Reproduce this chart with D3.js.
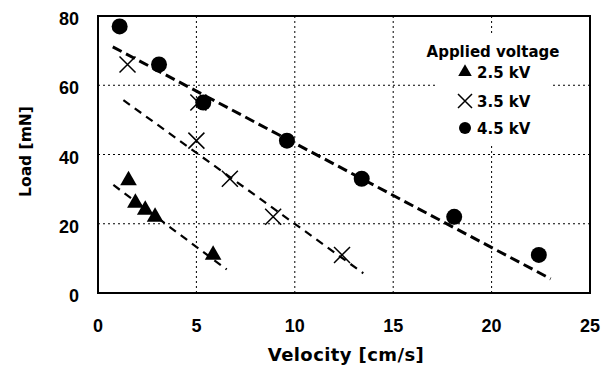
<!DOCTYPE html>
<html>
<head>
<meta charset="utf-8">
<script src="https://cdn.jsdelivr.net/npm/d3@7"></script>
<style>
  body { margin: 0; background: #fff; }
  text { font-family: "DejaVu Sans", sans-serif; font-weight: bold; fill: #000; }
  text.tick { font-family: "Liberation Sans", Arial, sans-serif; }
</style>
</head>
<body>
<script>
const v25 = [1.55, 1.9, 2.4, 2.9, 5.85];
const load25 = [32.5, 26, 24, 22, 11];
const v35 = [1.5, 5.1, 5.0, 6.7, 8.9, 12.4];
const load35 = [66, 55, 44, 33, 22, 11];
const v45 = [1.1, 3.1, 5.35, 9.6, 13.4, 18.1, 22.4];
const load45 = [77, 66, 55, 44, 33, 22, 11];

// dashed trend lines, start and end points
const fit25 = [[0.78, 31.2], [6.54, 6.8]];
const fit35 = [[1.29, 55.7], [13.48, 5.7]];
const fit45 = [[0.75, 71.1], [23.0, 4.1]];

const xTicks = [0, 5, 10, 15, 20, 25];
const yTicks = [0, 20, 40, 60, 80];
const legendLabels = ["2.5 kV", "3.5 kV", "4.5 kV"];

const width = 603, height = 365;
const margin = { top: 16, right: 13, bottom: 72, left: 98 };

const svg = d3.select("body").append("svg")
    .attr("width", width)
    .attr("height", height);

const x = d3.scaleLinear().domain([0, 25]).range([margin.left, width - margin.right]);
const y = d3.scaleLinear().domain([0, 80]).range([height - margin.bottom, margin.top]);

// dotted grid
svg.append("g").selectAll("line")
    .data(xTicks.slice(1, -1))
    .join("line")
    .attr("x1", d => x(d)).attr("x2", d => x(d))
    .attr("y1", y(0)).attr("y2", y(80))
    .attr("stroke", "#000").attr("stroke-width", 1)
    .attr("stroke-dasharray", "2,3");

svg.append("g").selectAll("line")
    .data(yTicks.slice(1, -1))
    .join("line")
    .attr("x1", x(0)).attr("x2", x(25))
    .attr("y1", d => y(d)).attr("y2", d => y(d))
    .attr("stroke", "#000").attr("stroke-width", 1)
    .attr("stroke-dasharray", "2,3");

// legend background hides the grid behind it
svg.append("rect")
    .attr("x", 437).attr("y", 34)
    .attr("width", 115).attr("height", 109)
    .attr("fill", "#fff");

// frame
svg.append("rect")
    .attr("x", x(0)).attr("y", y(80))
    .attr("width", x(25) - x(0)).attr("height", y(0) - y(80))
    .attr("fill", "none").attr("stroke", "#000").attr("stroke-width", 2);

// tick labels
svg.append("g").selectAll("text")
    .data(xTicks)
    .join("text")
    .attr("class", "tick")
    .attr("x", d => x(d))
    .attr("y", y(0) + 39)
    .attr("text-anchor", "middle")
    .style("font-size", "18px")
    .text(d => d);

svg.append("g").selectAll("text")
    .data(yTicks)
    .join("text")
    .attr("class", "tick")
    .attr("x", x(0) - 19)
    .attr("y", d => y(d) + 9)
    .attr("text-anchor", "end")
    .style("font-size", "18px")
    .text(d => d);

// axis titles
svg.append("text")
    .attr("x", (x(0) + x(25)) / 2 + 2)
    .attr("y", 361)
    .attr("text-anchor", "middle")
    .style("font-size", "18px")
    .style("letter-spacing", "0.4px")
    .text("Velocity [cm/s]");

svg.append("text")
    .attr("transform", `translate(31,${(y(0) + y(80)) / 2 - 3}) rotate(-90)`)
    .attr("text-anchor", "middle")
    .style("font-size", "15.5px")
    .text("Load [mN]");

// markers
const tri = d3.symbol().type(d3.symbolTriangle);
const toPts = (vs, ls) => vs.map((v, i) => [v, ls[i]]);

svg.append("g").selectAll("path")
    .data(toPts(v25, load25))
    .join("path")
    .attr("transform", d => `translate(${x(d[0])},${y(d[1])})`)
    .attr("d", tri.size(120)())
    .attr("fill", "#000");

svg.append("g").selectAll("path")
    .data(toPts(v35, load35))
    .join("path")
    .attr("transform", d => `translate(${x(d[0])},${y(d[1])})`)
    .attr("d", "M-8,-8L8,8M-8,8L8,-8")
    .attr("stroke", "#000").attr("stroke-width", 1.5).attr("fill", "none");

svg.append("g").selectAll("circle")
    .data(toPts(v45, load45))
    .join("circle")
    .attr("cx", d => x(d[0]))
    .attr("cy", d => y(d[1]))
    .attr("r", 8)
    .attr("fill", "#000");

// trend lines
const line = d3.line().x(d => x(d[0])).y(d => y(d[1]));
[[fit25, 2.2, "8,6"], [fit35, 2.2, "8,6"], [fit45, 3, "10,5"]].forEach(([pts, w, dash]) => {
    svg.append("path")
        .datum(pts)
        .attr("d", line)
        .attr("fill", "none")
        .attr("stroke", "#000")
        .attr("stroke-width", w)
        .attr("stroke-dasharray", dash);
});

// legend
svg.append("text")
    .attr("x", 493).attr("y", 57)
    .attr("text-anchor", "middle")
    .style("font-size", "15px")
    .text("Applied voltage");

const lg = svg.append("g");
const rowY = [78, 107, 134];
lg.append("path")
    .attr("transform", `translate(465,${rowY[0] - 6})`)
    .attr("d", tri.size(80)())
    .attr("fill", "#000");
lg.append("path")
    .attr("transform", `translate(465,${rowY[1] - 6})`)
    .attr("d", "M-7,-7L7,7M-7,7L7,-7")
    .attr("stroke", "#000").attr("stroke-width", 1.5);
lg.append("circle")
    .attr("cx", 465).attr("cy", rowY[2] - 6)
    .attr("r", 6)
    .attr("fill", "#000");

lg.selectAll("text")
    .data(legendLabels)
    .join("text")
    .attr("x", 477)
    .attr("y", (d, i) => rowY[i])
    .style("font-size", "15px")
    .text(d => d);
</script>
</body>
</html>
